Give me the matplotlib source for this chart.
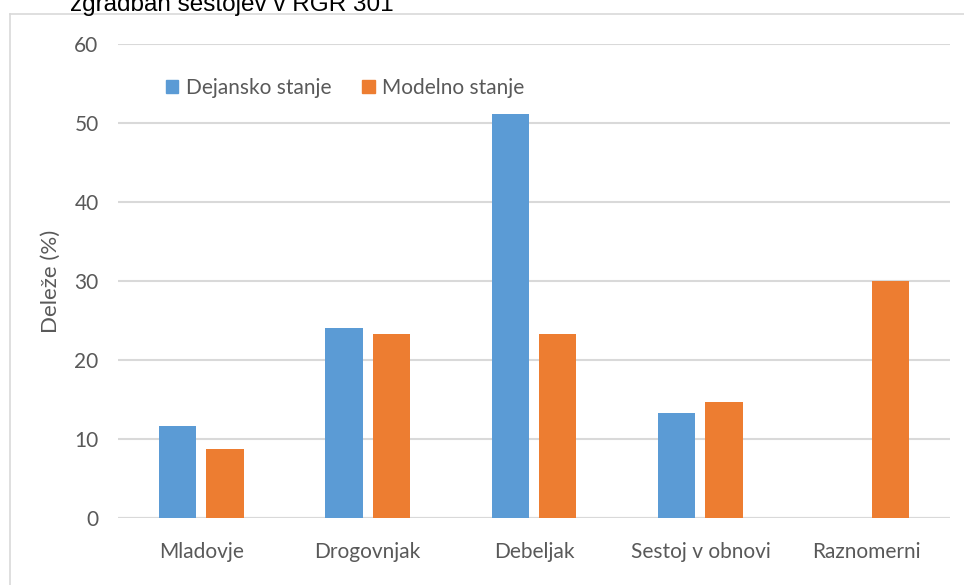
import numpy as np
import matplotlib.pyplot as plt
from matplotlib.lines import Line2D

categories = ['Mladovje', 'Drogovnjak', 'Debeljak', 'Sestoj v obnovi', 'Raznomerni']
dejansko = [11.6, 24.1, 51.1, 13.3, 0.0]
modelno = [8.7, 23.3, 23.3, 14.7, 30.0]
series_names = ['Dejansko stanje', 'Modelno stanje']

BLUE = '#5B9BD5'
ORANGE = '#ED7D31'
GRID = '#D9D9D9'
TEXT = '#595959'

plt.rcParams['font.family'] = ['Lato', 'DejaVu Sans']

fig = plt.figure(figsize=(9.64, 5.85), dpi=100)

# chart frame (left and top edges visible)
fig.add_artist(Line2D([10 / 964, 10 / 964], [0, 1 - 14 / 585], color=GRID, lw=1.2))
fig.add_artist(Line2D([10 / 964, 1], [1 - 14 / 585, 1 - 14 / 585], color=GRID, lw=1.2))

fig.text(70 / 964, 1 - 11 / 585, 'zgradban sestojev v RGR 301', family='Liberation Sans',
         fontsize=17.5, color='black', va='baseline', ha='left')

ax = fig.add_axes([118 / 964, 1 - 518 / 585, 832 / 964, 474 / 585])
x = np.arange(len(categories))
w = 0.225
ax.bar(x - 0.142, dejansko, width=w, color=BLUE, zorder=3)
ax.bar(x + 0.142, modelno, width=w, color=ORANGE, zorder=3)

ax.set_xlim(-0.5, len(categories) - 0.5)
ax.set_ylim(0, 60)
ax.set_yticks(range(0, 61, 10))
ax.yaxis.grid(True, color=GRID, lw=1.5, zorder=0)
ax.set_axisbelow(True)
for s in ax.spines.values():
    s.set_visible(False)
ax.axhline(0, color=GRID, lw=1.5, zorder=1)
ax.tick_params(length=0, colors=TEXT, labelsize=15)
ax.tick_params(axis='x', pad=17)
ax.tick_params(axis='y', pad=14)
ax.set_xticks(x)
ax.set_xticklabels(categories)
ax.set_ylabel('Deleže (%)', color=TEXT, fontsize=16, labelpad=10)

handles = [plt.Rectangle((0, 0), 1, 1, color=BLUE), plt.Rectangle((0, 0), 1, 1, color=ORANGE)]
ax.legend(handles, series_names, loc='upper left', bbox_to_anchor=(0.035, 0.968), ncol=2,
          frameon=False, fontsize=15, labelcolor=TEXT, handlelength=0.6, handleheight=0.6,
          handletextpad=0.35, columnspacing=1.5)

fig.savefig('out.png', dpi=100)
